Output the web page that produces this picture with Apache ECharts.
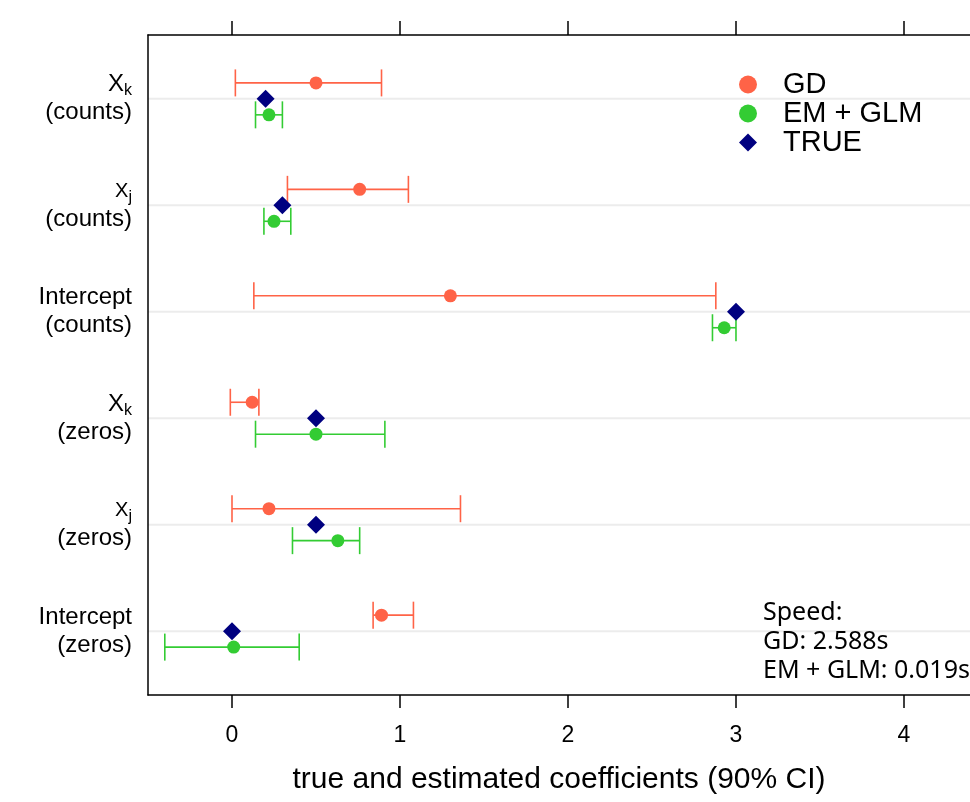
<!DOCTYPE html>
<html>
<head>
<meta charset="utf-8">
<script src="https://cdn.jsdelivr.net/npm/echarts@6/dist/echarts.min.js"></script>
<style>html,body{margin:0;padding:0;background:#fff;}#main{width:970px;height:802px;}</style>
</head>
<body>
<div id="main"></div>
<script>
// y positions 1..6, bottom to top
const groupPos = [1, 2, 3, 4, 5, 6];
const groupVar = ['Intercept', 'X_j', 'X_k', 'Intercept', 'X_j', 'X_k'];
const groupPart = ['(zeros)', '(zeros)', '(zeros)', '(counts)', '(counts)', '(counts)'];

const gdEst = [0.89, 0.22, 0.12, 1.30, 0.76, 0.50];
const gdLo  = [0.84, 0.00, -0.01, 0.13, 0.33, 0.02];
const gdHi  = [1.08, 1.36, 0.16, 2.88, 1.05, 0.89];

const emEst = [0.01, 0.63, 0.50, 2.93, 0.25, 0.22];
const emLo  = [-0.40, 0.36, 0.14, 2.86, 0.19, 0.14];
const emHi  = [0.40, 0.76, 0.91, 3.00, 0.35, 0.30];

const trueVals = [0.0, 0.5, 0.5, 3.0, 0.3, 0.2];

const xTicks = [0, 1, 2, 3, 4];
const xMin = -0.5;
const xMax = 4.393; // plot is cut off at the right edge of the image
const offset = 0.15;

const GD_COLOR = '#FF6347';
const EM_COLOR = '#33CC33';
const TRUE_COLOR = '#000080';
const FONT = '"Liberation Sans", Arial, sans-serif';

function errData(lo, hi, shift) {
  return groupPos.map((p, i) => [lo[i], hi[i], p + shift]);
}
function pointData(est, shift) {
  return groupPos.map((p, i) => [est[i], p + shift]);
}
function errRender(color) {
  return function (params, api) {
    const a = api.coord([api.value(0), api.value(2)]);
    const b = api.coord([api.value(1), api.value(2)]);
    const h = 13.5;
    const style = { stroke: color, lineWidth: 1.6 };
    return {
      type: 'group',
      children: [
        { type: 'line', shape: { x1: a[0], y1: a[1], x2: b[0], y2: b[1] }, style },
        { type: 'line', shape: { x1: a[0], y1: a[1] - h, x2: a[0], y2: a[1] + h }, style },
        { type: 'line', shape: { x1: b[0], y1: b[1] - h, x2: b[0], y2: b[1] + h }, style }
      ]
    };
  };
}
function guideRender(params, api) {
  const cs = params.coordSys;
  const p = api.coord([xMin, api.value(0)]);
  return {
    type: 'line',
    shape: { x1: cs.x, y1: p[1], x2: cs.x + cs.width, y2: p[1] },
    style: { stroke: '#ececec', lineWidth: 2 }
  };
}

const chart = echarts.init(document.getElementById('main'));
chart.setOption({
  animation: false,
  backgroundColor: '#fff',
  grid: { left: 148, top: 35, right: 0, height: 660, containLabel: false },
  legend: {
    data: ['GD', 'EM + GLM', 'TRUE'],
    orient: 'vertical',
    left: 734,
    top: 65,
    itemWidth: 18,
    itemHeight: 18,
    itemGap: 0,
    textStyle: { fontFamily: FONT, fontSize: 29, color: '#000', lineHeight: 28, padding: [0, 0, 0, 21] }
  },
  xAxis: [
    {
      type: 'value', position: 'bottom', min: xMin, max: xMax,
      axisLine: { show: true, onZero: false, lineStyle: { color: '#000', width: 1.5 } },
      axisTick: { show: true, length: 13, customValues: xTicks, lineStyle: { color: '#000', width: 1.5 } },
      axisLabel: { customValues: xTicks, fontFamily: FONT, fontSize: 23, color: '#000', margin: 29 },
      splitLine: { show: false },
      name: 'true and estimated coefficients (90% CI)',
      nameLocation: 'middle',
      nameGap: 70,
      nameTextStyle: { fontFamily: FONT, fontSize: 30, color: '#000' }
    },
    {
      type: 'value', position: 'top', min: xMin, max: xMax,
      axisLine: { show: true, onZero: false, lineStyle: { color: '#000', width: 1.5 } },
      axisTick: { show: true, length: 14, customValues: xTicks, lineStyle: { color: '#000', width: 1.5 } },
      axisLabel: { show: false },
      splitLine: { show: false }
    }
  ],
  yAxis: {
    type: 'value', min: 0.4, max: 6.6,
    axisLine: { show: true, onZero: false, lineStyle: { color: '#000', width: 1.5 } },
    axisTick: { show: false },
    splitLine: { show: false },
    axisLabel: {
      customValues: groupPos,
      margin: 16,
      fontFamily: FONT,
      color: '#000',
      formatter: function (v) {
        const i = groupPos.indexOf(Math.round(v));
        if (i < 0) return '';
        const name = groupVar[i];
        let first;
        if (name === 'X_k') first = '{x|X}{sub|k}';
        else if (name === 'X_j') first = '{xs|X}{sub|j}';
        else first = '{t|Intercept}';
        return first + '\n{t|' + groupPart[i] + '}';
      },
      rich: {
        t: { fontFamily: FONT, fontSize: 24, color: '#000', lineHeight: 28, align: 'right' },
        x: { fontFamily: FONT, fontSize: 24, color: '#000', lineHeight: 28, align: 'right' },
        xs: { fontFamily: FONT, fontSize: 20, color: '#000', lineHeight: 28, align: 'right' },
        sub: { fontFamily: FONT, fontSize: 16, color: '#000', lineHeight: 28, verticalAlign: 'bottom', padding: [9, 0, 0, 0], align: 'right' }
      }
    }
  },
  graphic: [
    {
      type: 'text', left: 763, top: 598, z: 100,
      style: {
        text: 'Speed:\nGD: 2.588s\nEM + GLM: 0.019s',
        font: '25px "Noto Sans", "Open Sans", sans-serif',
        fill: '#000',
        lineHeight: 29
      }
    }
  ],
  series: [
    {
      name: 'guides', type: 'custom', renderItem: guideRender,
      data: groupPos.map(p => [p]), encode: { y: 0 }, silent: true, z: 0
    },
    {
      name: 'GD CI', type: 'custom', renderItem: errRender(GD_COLOR),
      data: errData(gdLo, gdHi, offset), encode: { x: [0, 1], y: 2 }, silent: true, z: 3
    },
    {
      name: 'EM CI', type: 'custom', renderItem: errRender(EM_COLOR),
      data: errData(emLo, emHi, -offset), encode: { x: [0, 1], y: 2 }, silent: true, z: 3
    },
    {
      name: 'GD', type: 'scatter', symbol: 'circle', symbolSize: 13,
      itemStyle: { color: GD_COLOR, opacity: 1 }, data: pointData(gdEst, offset), z: 5
    },
    {
      name: 'EM + GLM', type: 'scatter', symbol: 'circle', symbolSize: 13,
      itemStyle: { color: EM_COLOR, opacity: 1 }, data: pointData(emEst, -offset), z: 5
    },
    {
      name: 'TRUE', type: 'scatter', symbol: 'diamond', symbolSize: 18,
      itemStyle: { color: TRUE_COLOR, opacity: 1 }, data: pointData(trueVals, 0), z: 4
    }
  ]
});
</script>
</body>
</html>
